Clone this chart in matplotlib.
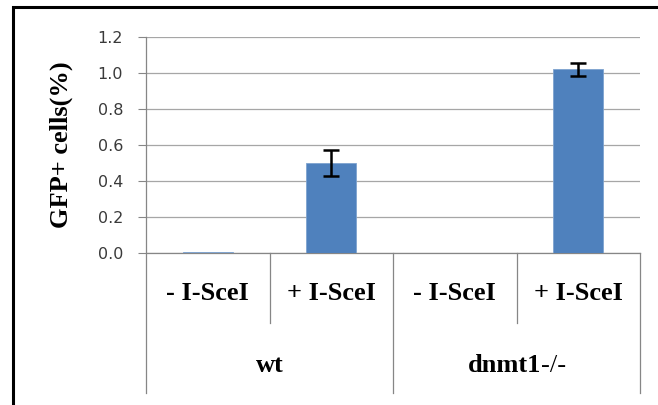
import matplotlib

matplotlib.use("Agg")
import matplotlib.pyplot as plt
from matplotlib.patches import Rectangle

# data
conditions = ["- I-SceI", "+ I-SceI", "- I-SceI", "+ I-SceI"]
groups = ["wt", "dnmt1"]
group_suffix = "-/-"
gfp_percent = [0.008, 0.50, 0.0, 1.02]
gfp_error = [0.0, 0.07, 0.0, 0.035]
yticks = [0.0, 0.2, 0.4, 0.6, 0.8, 1.0, 1.2]

SERIF = "Liberation Serif"
GRID = "#a6a6a6"
AXIS = "#868686"
BLUE = "#4f81bd"
FS = 19

fig = plt.figure(figsize=(6.58, 4.05), dpi=100)
ax = fig.add_axes([146 / 658, 1 - 253 / 405, 494 / 658, 216 / 405])

x = list(range(len(conditions)))
ax.bar(x, gfp_percent, width=0.405, color=BLUE, edgecolor="#7ea3cf", linewidth=0.6, zorder=3)
for xi, v, e in zip(x, gfp_percent, gfp_error):
    if e > 0:
        ax.errorbar(xi, v, yerr=e, fmt="none", ecolor="black", elinewidth=1.8,
                    capsize=5.5, capthick=1.8, zorder=4)

ax.set_xlim(-0.5, len(conditions) - 0.5)
ax.set_ylim(0, 1.2)
ax.set_yticks(yticks)
ax.set_yticklabels([f"{t:.1f}" for t in yticks], fontfamily="DejaVu Sans", fontsize=11.5, color="#3a3a3a")
ax.tick_params(axis="y", length=5.5, width=0.8, color=AXIS, pad=11)
ax.set_xticks([])
ax.grid(axis="y", color=GRID, linewidth=0.9, zorder=0)
ax.set_axisbelow(True)
for side in ("top", "right", "left"):
    ax.spines[side].set_visible(False)
ax.spines["bottom"].set_color(AXIS)
ax.spines["bottom"].set_linewidth(0.9)

# two-level category axis
xt = ax.get_xaxis_transform()
sub_bottom = (253 - 323) / 216
grp_bottom = (253 - 393) / 216
ax.plot([-0.5, -0.5], [1.0, grp_bottom], transform=xt, color=AXIS, lw=0.9, clip_on=False)
for b in (1.5, 3.5):
    ax.plot([b, b], [0, grp_bottom], transform=xt, color=AXIS, lw=0.9, clip_on=False)
for b in (0.5, 2.5):
    ax.plot([b, b], [0, sub_bottom], transform=xt, color=AXIS, lw=0.9, clip_on=False)

for xi, lab in zip(x, conditions):
    ax.text(xi, (253 - 293) / 216, lab, transform=xt, ha="center", va="center",
            fontfamily=SERIF, fontweight="bold", fontsize=FS)

grp_y = (253 - 365) / 216
ax.text(0.5, grp_y, groups[0], transform=xt, ha="center", va="center",
        fontfamily=SERIF, fontweight="bold", fontsize=FS)
main = ax.annotate(groups[1], xy=(2.5, grp_y), xycoords=xt, xytext=(18, 0),
                   textcoords="offset points", ha="right", va="center",
                   fontfamily=SERIF, fontweight="bold", fontsize=FS)
ax.annotate(group_suffix, xy=(1, 0), xycoords=main, va="bottom", ha="left",
            fontfamily=SERIF, fontsize=FS)

ax.set_ylabel("GFP+ cells(%)", fontfamily=SERIF, fontweight="bold", fontsize=FS)
ax.yaxis.set_label_coords((73 - 146) / 494, 0.5)

# chart border (runs off the right and bottom of the picture)
fig.patches.append(Rectangle((13 / 658, -0.2), 1.2, 1 - 7 / 405 + 0.2, transform=fig.transFigure,
                             fill=False, edgecolor="black", linewidth=2.2))

fig.savefig("out.png", dpi=100)
